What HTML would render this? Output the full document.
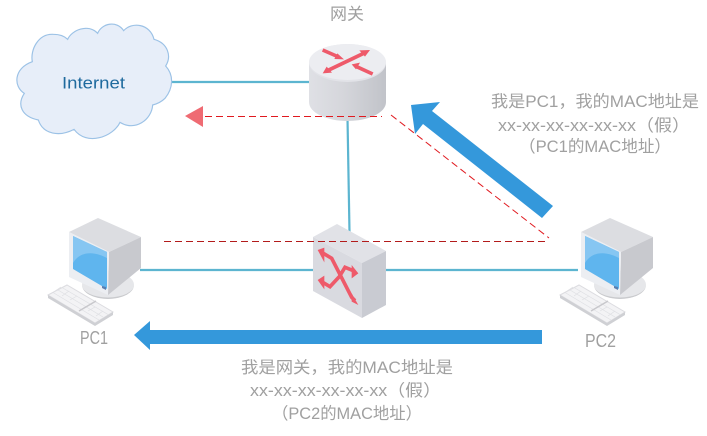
<!DOCTYPE html>
<html><head><meta charset="utf-8"><style>
html,body{margin:0;padding:0;background:#fff}
svg{display:block}
text{font-family:"Liberation Sans","Noto Sans CJK SC",sans-serif;font-size:16.500px;fill:#a0a0a0}
</style></head><body>
<svg width="707" height="436" viewBox="0 0 707 436" xmlns="http://www.w3.org/2000/svg">
<defs>
<linearGradient id="cyl" x1="0" x2="1" y1="0" y2="0"><stop offset="0" stop-color="#dfe0e5"/><stop offset=".45" stop-color="#d5d6db"/><stop offset="1" stop-color="#c1c3c9"/></linearGradient>
<g id="pc">
<ellipse cx="108" cy="285" rx="26" ry="14" fill="#e6e7ea"/>
<path d="M82 285a26 14 0 0 0 52 0a26 12.500 0 0 1-52 0z" fill="#c9cacd"/>
<path d="M69 232L98 218L141 237L109 252z" fill="#dcdde1"/>
<path d="M109 252L141 237V268L108 295z" fill="#c8c9ce"/>
<path d="M69 232L109 252L108 295L69 277z" fill="#eceef2"/>
<path d="M73 236L107 252V289L73 269z" fill="#5fb5ee"/>
<path d="M73 236L107 252V258C94 251 80 251 73 263z" fill="#86c6f2"/>
<path d="M102 286l4 1v3l-4-2z" fill="#5a7fb0"/>
<path d="M48 295L67 285L113 312L95 323z" fill="#f3f3f5" stroke="#dcdce0" stroke-width="1"/>
<path d="M48 295V298L95 326V323z M95 323V326L113 315V312z" fill="#cfd0d4"/>
<g stroke="#dedfe3" stroke-width=".7" fill="none">
<path d="M53 292.500L99 320M58 290L103 317M62 287.500L108 314.500"/>
<path d="M55 291L61 287M62 296L69 291M70 300L77 296M88 311L95 307M96 316L103 311"/>
</g>
<path d="M79 311L96 301" stroke="#c8c8cc" stroke-width="1.500"/>
</g>
</defs>

<!-- connectors -->
<g stroke="#5cb5d0" stroke-width="2.200" fill="none">
<path d="M170 82H312"/>
<path d="M347.500 118L349.500 232"/>
<path d="M140 270H316"/>
<path d="M385 270H578"/>
</g>

<!-- cloud -->
<path transform="scale(.33333)" d="M97 185C90 150 115 100 160 103C180 103 195 110 203 118C215 90 265 70 293 100C305 70 350 60 371 92C395 65 450 70 462 118C505 130 515 170 497 198C522 225 520 265 495 295C485 305 470 312 458 315C455 360 405 395 360 367C340 410 260 440 222 388C180 410 130 405 115 360C65 350 50 315 73 280C40 260 40 205 97 185z" fill="#e7eef9" stroke="#9cc2e6" stroke-width="3.500"/>
<text x="62" y="88.500" style="fill:#1f6a9e" textLength="63" lengthAdjust="spacingAndGlyphs">Internet</text>

<!-- router -->
<path d="M309 62V102C309 113 327 121 347.500 121C368 121 386 113 386 102V62z" fill="url(#cyl)"/>
<ellipse cx="347.500" cy="63" rx="38.500" ry="19" fill="#e2e3e8"/>
<ellipse cx="347.500" cy="62" rx="38.500" ry="18" fill="#ecedf1"/>
<g transform="translate(280 0) scale(.33333)">
<g stroke="#ee5a6a" stroke-width="11" fill="none">
<path d="M128 150L176 171"/>
<path d="M142 212L255 158"/>
<path d="M230 200L278 222"/>
</g>
<g fill="#ee5a6a">
<path d="M192 178L172 160L163 177z"/>
<path d="M270 150L238 151L255 170z"/>
<path d="M128 220L140 200L156 218z"/>
<path d="M215 193L240 188L228 208z"/>
</g>
</g>

<!-- switch -->
<path d="M313 237L337 224L386 251L362 263z" fill="#e1e2e7"/>
<path d="M362 263L386 251V305L362 318z" fill="#c9cbd2"/>
<path d="M313 237L362 263V318L313 291z" fill="#d9dae0"/>
<g transform="translate(290 210) scale(.33333)">
<g stroke="#ee5a6a" stroke-width="11" fill="none">
<path d="M95 127L125 145L185 262L195 272"/>
<path d="M95 215L120 230L148 200L165 172L190 182"/>
</g>
<g fill="#ee5a6a">
<path d="M83 120L103 113L103 157z"/>
<path d="M83 210L103 197L103 238z"/>
<path d="M205 190L185 165L185 205z"/>
<path d="M205 285L185 250L185 275z"/>
</g>
</g>

<!-- PCs -->
<use href="#pc"/>
<use href="#pc" x="512"/>

<!-- dashed lines -->
<g stroke="#e0191f" fill="none" stroke-width="1" stroke-dasharray="7 4">
<path d="M205 116.500H382"/>
<path d="M391 115L549 238"/>
<path d="M164 241.500H548" stroke="#b31b1b"/>
</g>
<path d="M185 116L203 106V127z" fill="#ef6b73"/>

<!-- blue arrows -->
<path d="M411 105L440 102L432 111L553 206L542 218L423 124L415 134z" fill="#3498db"/>
<path d="M134 335L150 321V330H542V344H150V350z" fill="#3498db"/>

<!-- labels -->
<text x="330" y="19.500" textLength="34" lengthAdjust="spacingAndGlyphs">网关</text>
<text x="80" y="344" textLength="28" lengthAdjust="spacingAndGlyphs" style="font-size:18px">PC1</text>
<text x="585" y="347" textLength="31" lengthAdjust="spacingAndGlyphs" style="font-size:18px">PC2</text>
<text x="491" y="107" textLength="208" lengthAdjust="spacingAndGlyphs">我是PC1，我的MAC地址是</text>
<text x="498" y="131" textLength="192" lengthAdjust="spacingAndGlyphs">xx-xx-xx-xx-xx-xx（假）</text>
<text x="519" y="152" textLength="152" lengthAdjust="spacingAndGlyphs">（PC1的MAC地址）</text>
<text x="241" y="373" textLength="212" lengthAdjust="spacingAndGlyphs">我是网关，我的MAC地址是</text>
<text x="250" y="396" textLength="191" lengthAdjust="spacingAndGlyphs">xx-xx-xx-xx-xx-xx（假）</text>
<text x="272" y="419" textLength="150" lengthAdjust="spacingAndGlyphs">（PC2的MAC地址）</text>
</svg>
</body></html>
